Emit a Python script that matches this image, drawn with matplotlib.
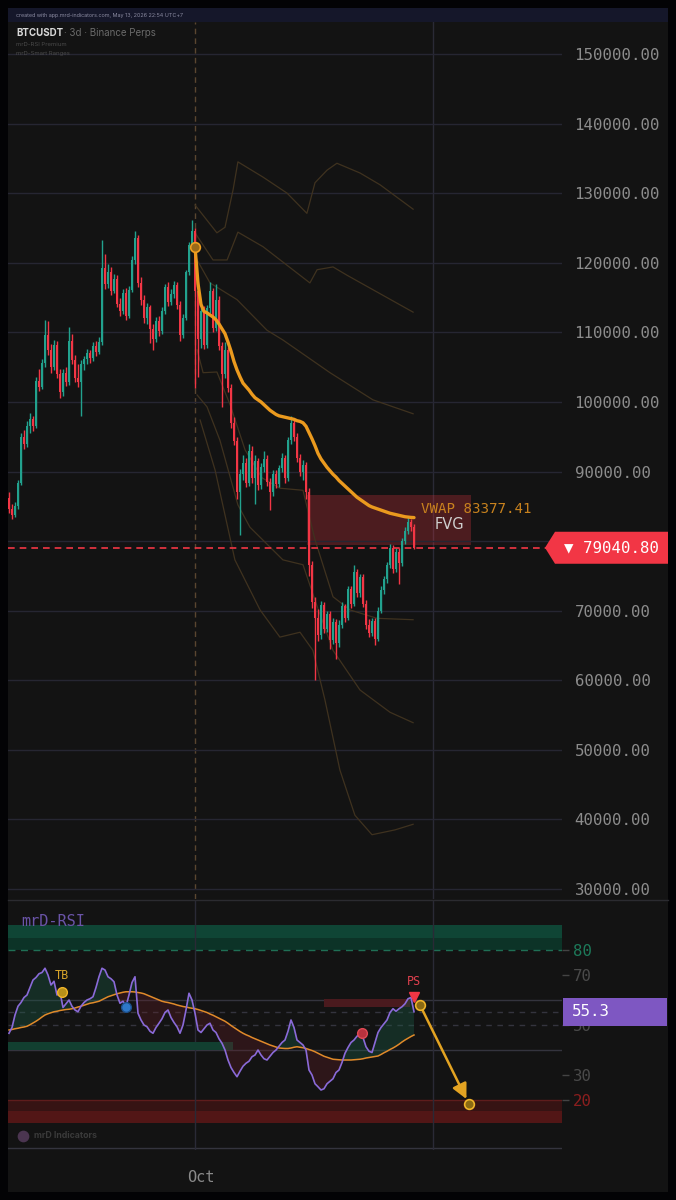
import matplotlib
matplotlib.use('Agg')
from matplotlib import pyplot as plt
from matplotlib.patches import Rectangle, Polygon
import matplotlib.transforms as mtransforms
import numpy as np

# ---- BTCUSDT 3d candles, prices in thousands USD ----
opens = [86.2, 84.6, 83.8, 85.0, 88.3, 95.0, 94.0, 96.5, 97.5, 96.6,
         103.0, 102.2, 105.6, 109.6, 107.4, 105.0, 108.2, 104.0, 101.4, 104.2,
         102.9, 108.8, 106.0, 103.5, 102.8, 105.4, 106.1, 107.0, 106.3, 108.1,
         107.2, 108.6, 119.2, 117.0, 118.6, 116.0, 117.6, 114.1, 113.1, 115.7,
         112.4, 116.1, 120.4, 123.6, 117.1, 114.6, 112.0, 113.6, 110.5, 109.0,
         111.6, 110.2, 113.1, 116.5, 114.4, 115.5, 116.8, 114.0, 109.6, 112.1,
         118.6, 122.6, 124.6, 116.0, 109.0, 113.0, 108.2, 113.5, 116.0, 110.6,
         114.6, 108.0, 104.0, 107.4, 102.0, 97.0, 94.4, 87.0, 89.6, 91.2,
         88.4, 93.0, 89.0, 91.5, 88.0, 90.6, 91.8, 88.5, 87.0, 89.6,
         88.2, 90.5, 92.0, 89.0, 94.5, 97.0, 95.0, 92.0, 90.0, 91.0,
         87.0, 76.5, 71.2, 69.0, 66.5, 70.8, 67.4, 69.5, 65.8, 68.4,
         65.4, 68.0, 70.6, 69.0, 73.1, 71.0, 75.6, 72.5, 74.8, 71.0,
         68.0, 66.8, 68.5, 66.0, 70.0, 73.0, 74.5, 76.5, 79.0, 76.0,
         78.5, 76.8, 80.0, 81.5, 82.7, 82.0]
highs = [87.0, 85.3, 85.6, 88.8, 95.6, 96.0, 97.2, 98.4, 98.0, 103.6,
         104.8, 106.2, 111.8, 111.6, 108.3, 108.9, 108.8, 104.8, 104.8, 105.0,
         110.8, 109.8, 106.8, 105.4, 106.0, 106.6, 107.6, 107.5, 108.6, 108.8,
         109.4, 123.3, 121.2, 119.8, 119.4, 118.4, 118.2, 115.0, 116.2, 116.3,
         116.6, 120.9, 124.5, 124.0, 118.0, 115.4, 114.2, 114.0, 111.2, 112.2,
         112.3, 113.6, 117.0, 117.2, 116.2, 117.4, 117.3, 114.5, 112.6, 119.0,
         123.0, 126.2, 125.0, 117.2, 113.6, 113.8, 114.0, 117.2, 116.4, 117.0,
         115.2, 108.6, 108.6, 107.9, 102.6, 97.8, 95.0, 90.4, 92.4, 92.0,
         94.0, 93.6, 92.4, 92.0, 91.2, 93.0, 92.3, 89.0, 90.2, 90.2,
         91.0, 92.6, 92.4, 95.0, 98.0, 97.5, 95.6, 92.5, 91.6, 91.4,
         87.6, 77.2, 72.0, 70.2, 71.4, 71.2, 70.0, 70.0, 69.0, 68.8,
         68.6, 71.2, 71.0, 73.6, 73.6, 76.6, 76.0, 75.3, 75.2, 71.6,
         68.8, 69.0, 69.0, 70.5, 73.5, 75.0, 77.0, 79.6, 79.4, 79.0,
         79.0, 80.4, 82.0, 83.6, 83.2, 82.4]
lows = [84.0, 83.2, 83.5, 84.6, 88.0, 93.2, 93.5, 95.6, 95.8, 96.2,
        101.5, 101.8, 105.0, 106.8, 104.2, 104.6, 103.4, 100.6, 100.9, 102.3,
        102.5, 105.4, 102.8, 102.2, 98.0, 104.6, 105.5, 105.6, 105.9, 106.6,
        106.9, 108.2, 116.2, 116.4, 115.4, 115.6, 113.6, 112.4, 112.6, 111.8,
        112.0, 115.8, 119.8, 116.5, 114.0, 111.4, 111.2, 108.4, 107.5, 108.6,
        109.5, 109.8, 112.6, 113.8, 113.9, 115.0, 113.4, 108.8, 109.2, 111.8,
        118.2, 121.8, 102.0, 103.6, 107.8, 107.6, 107.8, 112.8, 110.0, 110.2,
        107.4, 99.3, 103.4, 101.4, 96.3, 93.8, 86.0, 80.9, 88.8, 87.8,
        87.9, 88.4, 85.3, 87.4, 87.5, 90.0, 87.9, 84.5, 86.5, 87.6,
        87.8, 90.0, 88.4, 88.6, 94.0, 94.4, 91.4, 89.4, 88.8, 86.0,
        75.0, 70.4, 60.0, 65.6, 66.0, 66.8, 66.9, 64.5, 65.2, 63.0,
        64.8, 67.5, 68.3, 68.6, 70.4, 70.6, 72.0, 72.0, 70.5, 67.4,
        66.2, 66.3, 65.0, 65.6, 69.6, 72.4, 74.0, 76.1, 75.4, 75.6,
        73.8, 76.4, 79.6, 81.0, 81.4, 78.8]
closes = [84.6, 83.8, 85.0, 88.3, 95.0, 94.0, 96.5, 97.5, 96.6, 103.0,
          102.2, 105.6, 109.6, 107.4, 105.0, 108.2, 104.0, 101.4, 104.2, 102.9,
          108.8, 106.0, 103.5, 102.8, 105.4, 106.1, 107.0, 106.3, 108.1, 107.2,
          108.6, 119.2, 117.0, 118.6, 116.0, 117.6, 114.1, 113.1, 115.7, 112.4,
          116.1, 120.4, 123.6, 117.1, 114.6, 112.0, 113.6, 110.5, 109.0, 111.6,
          110.2, 113.1, 116.5, 114.4, 115.5, 116.8, 114.0, 109.6, 112.1, 118.6,
          122.6, 124.6, 116.0, 109.0, 113.0, 108.2, 113.5, 116.0, 110.6, 114.6,
          108.0, 104.0, 107.4, 102.0, 97.0, 94.4, 87.0, 89.6, 91.2, 88.4,
          93.0, 89.0, 91.5, 88.0, 90.6, 91.8, 88.5, 87.0, 89.6, 88.2,
          90.5, 92.0, 89.0, 94.5, 97.0, 95.0, 92.0, 90.0, 91.0, 87.0,
          76.5, 71.2, 69.0, 66.5, 70.8, 67.4, 69.5, 65.8, 68.4, 65.4,
          68.0, 70.6, 69.0, 73.1, 71.0, 75.6, 72.5, 74.8, 71.0, 68.0,
          66.8, 68.5, 66.0, 70.0, 73.0, 74.5, 76.5, 79.0, 76.0, 78.5,
          76.8, 80.0, 81.5, 82.7, 82.0, 79.0408]

# anchored VWAP from the Oct candle (index 62) to the last candle
vwap_start = 62
vwap = [122.3, 117.0, 114.0, 113.0, 112.8, 112.5, 112.2, 111.8, 111.2, 110.5,
        109.8, 108.6, 107.3, 105.8, 104.6, 103.6, 102.7, 102.2, 101.7, 101.1,
        100.6, 100.3, 100.0, 99.6, 99.2, 98.8, 98.5, 98.2, 98.0, 97.9,
        97.8, 97.7, 97.6, 97.5, 97.3, 97.2, 97.0, 96.5, 95.6, 94.7,
        93.7, 92.6, 91.8, 91.2, 90.6, 90.1, 89.6, 89.2, 88.7, 88.3,
        87.9, 87.5, 87.1, 86.7, 86.3, 86.0, 85.7, 85.4, 85.1, 84.9,
        84.75, 84.6, 84.45, 84.3, 84.15, 84.0, 83.9, 83.8, 83.7, 83.6,
        83.5, 83.45, 83.4, 83.37741]

# smart range band lines: (candle index, price in thousands)
band_x = [
    [62, 69.3, 72, 74.7, 76.3, 84.7, 92.7, 99.3, 102, 106, 109.3, 117, 123.7, 134.7],
    [62, 68, 72.7, 76.3, 84.7, 100.3, 102.7, 108, 112.7, 134.7],
    [62.7, 67, 76, 86, 91.3, 107, 121.3, 134.7],
    [62.7, 64.7, 69.3, 73.7, 78.7, 84.3, 90.3, 98, 102, 108, 113.7, 122.7, 134.7],
    [62.7, 66, 70.3, 76.3, 80.3, 91.3, 98, 102, 108, 117, 127, 134.7],
    [63.7, 68.7, 75.3, 83.7, 90.3, 97, 101.3, 105.3, 110.3, 115.3, 121, 128.7, 134.7],
]
band_y = [
    [128.3, 124.3, 125.1, 130.5, 134.5, 132.3, 130.0, 127.1, 131.5, 133.3, 134.3, 132.9, 131.2, 127.7],
    [124.3, 120.4, 120.4, 124.4, 122.3, 117.1, 119.0, 119.4, 118.2, 112.9],
    [120.4, 117.1, 114.7, 110.3, 108.9, 104.2, 100.3, 98.3],
    [107.5, 104.2, 104.3, 99.6, 93.1, 89.1, 87.6, 87.3, 80.2, 72.0, 70.1, 68.9, 68.7],
    [101.0, 99.3, 94.5, 85.2, 82.0, 77.3, 76.6, 71.5, 64.3, 58.6, 55.4, 53.9],
    [97.4, 90.2, 77.3, 70.1, 66.2, 66.9, 64.3, 57.2, 47.1, 40.6, 37.8, 38.5, 39.3],
]

fvg_low, fvg_high = 79434, 86620
fvg_from, fvg_to = 99.3, 153.9

# ---- mrD-RSI ----
rsi = [46.7, 49.0, 54.0, 57.5, 59.0, 61.0, 62.0, 65.0, 68.0, 69.0,
       70.5, 71.0, 72.7, 70.0, 66.0, 67.5, 62.0, 63.2, 57.0, 58.5,
       60.0, 57.5, 56.0, 55.3, 57.5, 59.0, 60.0, 60.5, 61.3, 65.0,
       69.3, 72.7, 72.0, 69.3, 68.5, 67.3, 62.0, 58.7, 59.5, 57.5,
       62.0, 67.0, 69.3, 54.7, 52.0, 50.0, 49.3, 47.5, 46.7, 49.0,
       50.7, 52.5, 55.0, 56.0, 53.0, 51.0, 49.3, 46.7, 50.0, 56.0,
       62.7, 60.0, 54.7, 48.0, 47.0, 48.5, 50.0, 50.7, 48.0, 47.0,
       44.5, 42.7, 40.0, 36.0, 33.0, 31.0, 29.3, 31.5, 33.5, 34.7,
       35.5, 37.3, 38.0, 40.0, 38.0, 36.5, 36.0, 37.5, 39.0, 40.0,
       41.5, 43.0, 44.0, 47.5, 52.0, 49.0, 44.0, 43.0, 42.0, 40.0,
       32.0, 30.0, 26.5, 25.3, 24.0, 24.5, 26.5, 27.5, 28.5, 31.0,
       32.0, 35.0, 38.7, 41.0, 43.0, 44.0, 45.5, 46.7, 45.0, 41.3,
       39.5, 39.0, 43.0, 47.0, 49.0, 50.5, 52.0, 55.0, 56.5, 55.5,
       56.5, 57.3, 58.5, 60.5, 61.0, 55.3]
signal = [48.0, 48.2, 48.5, 48.7, 49.0, 49.2, 49.5, 50.1, 50.8, 51.5,
          52.3, 53.2, 54.0, 54.5, 54.9, 55.3, 55.5, 55.8, 56.0, 56.2,
          56.3, 56.5, 56.8, 57.2, 57.5, 57.9, 58.3, 58.7, 58.9, 59.2,
          59.5, 60.1, 60.7, 61.3, 61.7, 62.1, 62.5, 62.8, 63.1, 63.3,
          63.3, 63.3, 63.2, 63.0, 62.8, 62.5, 62.0, 61.5, 61.0, 60.5,
          60.0, 59.5, 59.2, 59.0, 58.7, 58.4, 58.0, 57.7, 57.4, 57.2,
          56.9, 56.7, 56.5, 56.2, 55.8, 55.4, 55.0, 54.4, 53.9, 53.3,
          52.7, 52.1, 51.5, 50.7, 49.8, 49.0, 48.2, 47.4, 46.7, 46.1,
          45.6, 45.0, 44.5, 44.0, 43.5, 43.0, 42.5, 42.0, 41.6, 41.2,
          40.8, 40.7, 40.6, 40.6, 40.8, 41.1, 41.3, 41.1, 40.9, 40.6,
          40.2, 39.8, 39.3, 38.7, 38.1, 37.5, 37.1, 36.7, 36.3, 36.2,
          36.1, 36.0, 36.0, 36.0, 36.0, 36.1, 36.2, 36.3, 36.5, 36.8,
          37.0, 37.2, 37.4, 37.6, 38.2, 38.9, 39.5, 40.2, 40.8, 41.5,
          42.3, 43.2, 44.0, 44.7, 45.4, 46.0]

tb_pt = (17.7, 63.2)
blue_pt = (39.0, 57.2)
red_pt = (117.7, 46.8)
ps_pt = (135.0, 61.3)
arrow_from = (137.0, 58.0)
arrow_to = (153.3, 18.4)

GREEN = '#22a28e'
RED = '#f23645'
GRID = '#262632'
MONO = 'DejaVu Sans Mono'

W, H = 676, 1200
fig = plt.figure(figsize=(W / 100, H / 100), dpi=100, facecolor='#030305')


def fx(px):
    return px / W


def fy(py):
    return 1 - py / H


def price_at(py):
    return 150000 - (py - 54) * 120000 / 835


def afrac(px):
    return (px - 8) / 554


fig.add_artist(Rectangle((fx(8), fy(1192)), 660 / W, 1184 / H, transform=fig.transFigure,
                         facecolor='#131313', edgecolor='none', zorder=0))
fig.add_artist(Rectangle((fx(8), fy(22)), 660 / W, 14 / H, transform=fig.transFigure,
                         facecolor='#15172a', edgecolor='none', zorder=0))
fig.add_artist(plt.Line2D([fx(8), fx(668)], [fy(899.5), fy(899.5)], transform=fig.transFigure,
                          color='#2b2b30', lw=1, zorder=1))

xlim = ((8 - 9) / 3, (562 - 9) / 3)

# ---------------- price pane ----------------
ax = fig.add_axes([fx(8), fy(899), 554 / W, 877 / H])
ax.set_facecolor('none')
ax.set_xlim(*xlim)
ax.set_ylim(price_at(899), price_at(22))
for s in ax.spines.values():
    s.set_visible(False)

last = closes[-1] * 1000
ticks = list(range(30000, 150001, 10000))
ax.set_yticks(ticks)
# the 80000 label sits under the last-price tag
ax.set_yticklabels(['' if abs(t - last) < 3000 else f'{t:.2f}' for t in ticks])
ax.yaxis.tick_right()
ax.tick_params(axis='y', length=0, pad=9, labelsize=11.3, labelcolor='#8c8c8c')
for t in ax.get_yticklabels():
    t.set_fontfamily(MONO)
ax.set_xticks([])
ax.grid(axis='y', color=GRID, lw=1, zorder=0)

ax.axvline(61.9, color='#5a4630', lw=1, ls=(0, (4, 3)), zorder=1)
ax.axvline(141.3, color='#2a2a36', lw=1, zorder=1)

o = np.array(opens) * 1000
h = np.array(highs) * 1000
l = np.array(lows) * 1000
c = np.array(closes) * 1000
idx = np.arange(len(c))
cols = np.where(c >= o, GREEN, RED)

ax.add_patch(Rectangle((fvg_from, fvg_low), fvg_to - fvg_from, fvg_high - fvg_low,
                       facecolor=RED, alpha=0.26, edgecolor='none', zorder=1))

for bx, by in zip(band_x, band_y):
    ax.plot(bx, np.array(by) * 1000, color='#3f321f', lw=0.9, zorder=2)

ax.vlines(idx, l, h, colors=cols, lw=1.0, zorder=3)
ax.bar(idx, np.maximum(np.abs(c - o), 250), bottom=np.minimum(o, c), width=0.8,
       color=cols, linewidth=0, zorder=3)

vx = np.arange(vwap_start, vwap_start + len(vwap))
vy = np.array(vwap) * 1000
ax.plot(vx, vy, color='#eb9a1e', lw=2.4, zorder=4, solid_capstyle='round')
ax.plot(vx[0], vy[0], 'o', ms=7, mfc='#9a6a1a', mec='#f0a020', mew=1.2, zorder=5)
ax.annotate(f'VWAP {vy[-1]:.2f}', xy=(137.3, vy[-1]), xytext=(0, 6), textcoords='offset points',
            va='center', ha='left', color='#c8821e', fontsize=10.2, fontfamily=MONO, zorder=6)
ax.annotate('FVG', xy=(146.8, (fvg_low + fvg_high) / 2), xytext=(0, -3), textcoords='offset points',
            color='#cfcfcf', fontsize=10.5, ha='center', va='center', zorder=6)

ax.axhline(last, color=RED, lw=1.2, ls=(0, (4, 3)), zorder=4)
bt = mtransforms.blended_transform_factory(ax.transAxes, ax.transData)
hh = 16 * 120000 / 835
ax.add_patch(Polygon([(afrac(545), last), (afrac(555), last + hh), (afrac(668), last + hh),
                      (afrac(668), last - hh), (afrac(555), last - hh)], closed=True,
                     transform=bt, clip_on=False, facecolor=RED, edgecolor='none', zorder=10))
ax.text(afrac(564), last, f'\u25bc {last:.2f}', transform=bt, color='white', fontsize=11.3,
        fontfamily=MONO, va='center', ha='left', zorder=11, clip_on=False)

# ---------------- RSI pane ----------------
axr = fig.add_axes([fx(8), fy(1150), 554 / W, 250 / H])
axr.set_facecolor('none')
axr.set_xlim(*xlim)
axr.set_ylim(0, 100)
for s in axr.spines.values():
    s.set_visible(False)
axr.set_xticks([])

axr.axhspan(85, 90, color='#0f4535', lw=0, zorder=0)
axr.axhspan(80, 85, color='#0c3327', lw=0, zorder=0)
axr.axhspan(15.5, 20, color='#361313', lw=0, zorder=0)
axr.axhspan(11, 15.5, color='#521616', lw=0, zorder=0)
axr.axhline(80, color='#1f6f55', lw=1, ls=(0, (5, 4)), zorder=1)
axr.axhline(20, color='#5e1c1c', lw=1, zorder=1)
axr.axhline(60, color='#34343e', lw=1, zorder=1)
axr.axhline(40, color='#34343e', lw=1, zorder=1)
axr.axhline(rsi[-1], color='#34343e', lw=1, ls=(0, (4, 4)), zorder=1)
axr.axhline(50, color='#34343e', lw=1, ls=(0, (4, 4)), zorder=1)
axr.axhline(0.7, color='#34343e', lw=1, zorder=1)
axr.axvline(61.9, color='#2a2a36', lw=1, zorder=1)
axr.axvline(141.3, color='#2a2a36', lw=1, zorder=1)

axr.add_patch(Rectangle((xlim[0], 40), 74.7 - xlim[0], 3.3, facecolor='#123f30', edgecolor='none', zorder=1))
axr.add_patch(Rectangle((105, 57.3), 28.5, 3.0, facecolor='#4a1a1e', edgecolor='none', zorder=1))

r = np.array(rsi)
sg = np.array(signal)
ri = np.arange(len(r))
axr.fill_between(ri, r, sg, where=r >= sg, interpolate=True, color='#1b5e47', alpha=0.35, lw=0, zorder=2)
axr.fill_between(ri, r, sg, where=r < sg, interpolate=True, color='#6b2028', alpha=0.3, lw=0, zorder=2)
axr.plot(ri, sg, color='#e08a2a', lw=1.1, zorder=3)
axr.plot(ri, r, color='#8a6ad8', lw=1.2, zorder=4)

axr.plot(*tb_pt, 'o', ms=7, mfc='#b8901a', mec='#f0b429', mew=1, zorder=5)
axr.text(tb_pt[0], tb_pt[1] + 6.5, 'TB', color='#d9a52a', fontsize=8.5, fontfamily=MONO,
         ha='center', va='center', zorder=5)
axr.plot(*blue_pt, 'o', ms=7, mfc='#2e78c8', mec='#1d4f8a', mew=1, zorder=5)
axr.plot(*red_pt, 'o', ms=7, mfc='#b8323e', mec='#e04a55', mew=1, zorder=5)
axr.plot(*ps_pt, 'v', ms=7, color=RED, zorder=5)
axr.text(ps_pt[0], ps_pt[1] + 6, 'PS', color='#e0404e', fontsize=8.5, fontfamily=MONO,
         ha='center', va='center', zorder=5)
axr.annotate('', xy=arrow_to, xytext=arrow_from,
             arrowprops=dict(arrowstyle='-|>,head_length=0.9,head_width=0.45', color='#e3a322',
                             lw=1.8, shrinkA=0, shrinkB=4), zorder=6)
axr.plot(*arrow_from, 'o', ms=7, mfc='#8a6a14', mec='#f0b429', mew=1.2, zorder=7)
axr.plot(*arrow_to, 'o', ms=7, mfc='#8a6a14', mec='#f0b429', mew=1.2, zorder=7)

rticks = [20, 30, 50, 70, 80]
rcols = ['#8b1e1e', '#4a4a4a', '#4a4a4a', '#4a4a4a', '#1d7a5a']
axr.set_yticks(rticks)
axr.set_yticklabels([str(t) for t in rticks])
axr.yaxis.tick_right()
axr.tick_params(axis='y', length=5, width=1, color='#444444', pad=3, labelsize=11.3)
for t, col in zip(axr.get_yticklabels(), rcols):
    t.set_color(col)
    t.set_fontfamily(MONO)

btr = mtransforms.blended_transform_factory(axr.transAxes, axr.transData)
axr.add_patch(Rectangle((afrac(562.5), rsi[-1] - 5.6), afrac(667) - afrac(562.5), 11.2,
                        transform=btr, clip_on=False, facecolor='#7e57c2', edgecolor='none', zorder=10))
axr.text(afrac(572), rsi[-1], f'{rsi[-1]:.1f}', transform=btr, color='white', fontsize=11.3,
         fontfamily=MONO, va='center', ha='left', zorder=11, clip_on=False)

axr.scatter([4.5], [5.6], s=55, color='#4b3550', zorder=3)
fig.text(fx(34), fy(1136), 'mrD Indicators', color='#3a3a3a', fontsize=6.3, fontweight='bold',
         family='Inter', va='center')
fig.text(fx(21), fy(921), 'mrD-RSI', color='#6a54a8', fontsize=11, family=MONO, va='center')

bxt = mtransforms.blended_transform_factory(axr.transData, axr.transAxes)
axr.text(64, -0.112, 'Oct', transform=bxt, color='#8a8a8a', fontsize=11, fontfamily=MONO,
         ha='center', va='center', clip_on=False)

# ---------------- header ----------------
fig.text(fx(16), fy(15), 'created with app.mrd-indicators.com, May 13, 2026 22:54 UTC+7',
         color='#8a8aa0', fontsize=3.9, family='Inter', va='center')
fig.text(fx(16), fy(32.5), 'BTCUSDT', color='#d8d8d8', fontsize=7, fontweight='bold',
         family='Inter', va='center')
fig.text(fx(64), fy(32.5), '\u00b7 3d \u00b7 Binance Perps', color='#6a6a6a', fontsize=7,
         family='Inter', va='center')
fig.text(fx(16), fy(44.5), 'mrD-RSI Premium', color='#4a4a4a', fontsize=4.3, family='Inter', va='center')
fig.text(fx(16), fy(53), 'mrD-Smart Ranges', color='#4a4a4a', fontsize=4.3, family='Inter', va='center')

fig.savefig('out.png', dpi=100, facecolor=fig.get_facecolor())
